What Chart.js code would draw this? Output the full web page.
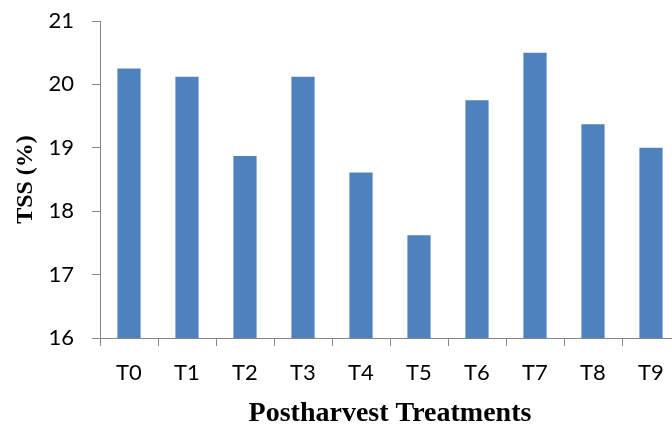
<!DOCTYPE html>
<html>
<head>
<meta charset="utf-8">
<script src="https://cdn.jsdelivr.net/npm/chart.js@4"></script>
<style>
  html, body { margin: 0; padding: 0; background: #fff; overflow: hidden; }
  #wrap { width: 700px; height: 427px; }
</style>
</head>
<body>
<div id="wrap"><canvas id="c" width="700" height="427"></canvas></div>
<script>
// Total soluble solids per postharvest treatment
const treatments = ['T0', 'T1', 'T2', 'T3', 'T4', 'T5', 'T6', 'T7', 'T8', 'T9'];
const tssValues = [20.25, 20.12, 18.87, 20.12, 18.61, 17.62, 19.75, 20.5, 19.37, 19.0];
const yTicks = [16, 17, 18, 19, 20, 21];

const axisGray = '#868686';
const labelFont = { family: 'Lato, "Open Sans", sans-serif', size: 22 };
const xTitleFont = { family: '"Liberation Serif", "Times New Roman", serif', size: 28, weight: 'bold' };
const yTitleFont = { family: '"Liberation Serif", "Times New Roman", serif', size: 24, weight: 'bold' };

new Chart(document.getElementById('c'), {
  type: 'bar',
  data: {
    labels: treatments,
    datasets: [{
      data: tssValues,
      backgroundColor: '#4F81BD',
      borderWidth: 0,
      categoryPercentage: 1.0,
      barPercentage: 0.4
    }]
  },
  options: {
    responsive: false,
    animation: false,
    devicePixelRatio: 1,
    layout: { padding: { top: 21, right: 20, left: 0, bottom: 0 } },
    plugins: { legend: { display: false }, tooltip: { enabled: false } },
    scales: {
      x: {
        grid: { display: true, drawOnChartArea: false, drawTicks: true, tickLength: 8, color: axisGray, lineWidth: 1, offset: true },
        border: { display: true, color: axisGray, width: 1 },
        ticks: { color: '#000', font: labelFont, padding: 14, maxRotation: 0 },
        title: { display: true, text: 'Postharvest Treatments', color: '#000', font: xTitleFont, padding: { top: 0, bottom: -4 } },
        afterFit(scale) { scale.height = 89; }
      },
      y: {
        min: 16,
        max: 21,
        afterBuildTicks(scale) { scale.ticks = yTicks.map(v => ({ value: v })); },
        grid: { display: true, drawOnChartArea: false, drawTicks: true, tickLength: 8, color: axisGray, lineWidth: 1 },
        border: { display: true, color: axisGray, width: 1 },
        ticks: { color: '#000', font: labelFont, padding: 18 },
        title: { display: true, text: 'TSS (%)', color: '#000', font: yTitleFont, padding: { top: 11, bottom: 0 } },
        afterFit(scale) {
          scale.width = 100;
          // keep the label overhang from pushing the plot down
          scale.paddingTop = 0;
          scale.paddingBottom = 0;
        }
      }
    }
  }
});
</script>
</body>
</html>
